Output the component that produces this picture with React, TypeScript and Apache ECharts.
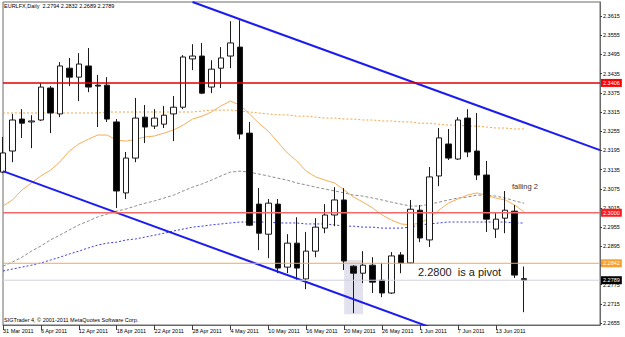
import React, { useEffect, useRef } from "react";
import * as echarts from "echarts";

const dates = ["31 Mar 2011","1 Apr 2011","4 Apr 2011","5 Apr 2011","6 Apr 2011","7 Apr 2011","8 Apr 2011","11 Apr 2011","12 Apr 2011","13 Apr 2011","14 Apr 2011","15 Apr 2011","18 Apr 2011","19 Apr 2011","20 Apr 2011","21 Apr 2011","22 Apr 2011","25 Apr 2011","26 Apr 2011","27 Apr 2011","28 Apr 2011","29 Apr 2011","2 May 2011","3 May 2011","4 May 2011","5 May 2011","6 May 2011","9 May 2011","10 May 2011","11 May 2011","12 May 2011","13 May 2011","16 May 2011","17 May 2011","18 May 2011","19 May 2011","20 May 2011","23 May 2011","24 May 2011","25 May 2011","26 May 2011","27 May 2011","30 May 2011","31 May 2011","1 Jun 2011","2 Jun 2011","3 Jun 2011","6 Jun 2011","7 Jun 2011","8 Jun 2011","9 Jun 2011","10 Jun 2011","13 Jun 2011","14 Jun 2011","15 Jun 2011","16 Jun 2011"];
const futureSlots = ["f1","f2","f3","f4","f5","f6","f7","f8"];

const opens = [2.3127,2.3193,2.3293,2.3284,2.3290,2.3390,2.3309,2.3452,2.3424,2.3459,2.3399,2.3399,2.3284,2.3062,2.3171,2.3299,2.3271,2.3277,2.3309,2.3330,2.3481,2.3490,2.3393,2.3452,2.3490,2.3518,2.3249,2.3027,2.2933,2.3027,2.2830,2.2905,2.2793,2.2880,2.2952,2.2993,2.3040,2.2833,2.2811,2.2836,2.2789,2.2749,2.2868,2.2843,2.3008,2.2915,2.3115,2.3215,2.3168,2.3296,2.3193,2.3118,2.2949,2.2983,2.3005,2.2794];
const closes = [2.3187,2.3290,2.3280,2.3287,2.3393,2.3312,2.3459,2.3424,2.3465,2.3393,2.3396,2.3293,2.3068,2.3171,2.3296,2.3268,2.3296,2.3305,2.3330,2.3487,2.3490,2.3374,2.3449,2.3484,2.3531,2.3246,2.2961,2.2936,2.3030,2.2827,2.2905,2.2827,2.2880,2.2955,2.2993,2.3040,2.2849,2.2811,2.2836,2.2783,2.2749,2.2865,2.2843,2.3011,2.2921,2.3112,2.3234,2.3171,2.3290,2.3190,2.3118,2.2980,2.2980,2.3008,2.2805,2.2789];
const lows = [2.3124,2.3158,2.3234,2.3202,2.3287,2.3249,2.3299,2.3396,2.3349,2.3377,2.3268,2.3284,2.3015,2.3043,2.3158,2.3218,2.3262,2.3265,2.3224,2.3324,2.3446,2.3371,2.3374,2.3390,2.3452,2.3230,2.2958,2.2883,2.2858,2.2811,2.2811,2.2789,2.2761,2.2861,2.2936,2.2958,2.2821,2.2686,2.2780,2.2749,2.2736,2.2746,2.2811,2.2840,2.2908,2.2893,2.3083,2.3165,2.3165,2.3174,2.3102,2.2940,2.2921,2.2936,2.2796,2.2689];
const highs = [2.3237,2.3309,2.3324,2.3305,2.3405,2.3396,2.3471,2.3484,2.3499,2.3515,2.3431,2.3424,2.3293,2.3190,2.3359,2.3337,2.3324,2.3334,2.3365,2.3493,2.3527,2.3531,2.3477,2.3518,2.3599,2.3602,2.3284,2.3077,2.3043,2.3043,2.2933,2.2986,2.2940,2.2983,2.3027,2.3080,2.3077,2.2836,2.2880,2.2861,2.2843,2.2877,2.2877,2.3040,2.3024,2.3143,2.3265,2.3262,2.3299,2.3324,2.3312,2.3162,2.3002,2.3068,2.3024,2.2832];

const maFast = [2.3021,2.3040,2.3071,2.3093,2.3115,2.3133,2.3159,2.3193,2.3215,2.3230,2.3243,2.3243,2.3227,2.3224,2.3230,2.3237,2.3240,2.3249,2.3259,2.3274,2.3293,2.3302,2.3315,2.3334,2.3349,2.3337,2.3309,2.3280,2.3255,2.3221,2.3187,2.3162,2.3130,2.3112,2.3102,2.3093,2.3071,2.3049,2.3033,2.3015,2.2993,2.2977,2.2965,2.2962,2.2968,2.2983,2.3008,2.3030,2.3043,2.3055,2.3062,2.3055,2.3046,2.3040,2.3024,2.3002];
const maSlow = [2.3312,2.3312,2.3312,2.3312,2.3312,2.3312,2.3312,2.3312,2.3312,2.3312,2.3312,2.3315,2.3315,2.3315,2.3315,2.3315,2.3315,2.3315,2.3315,2.3315,2.3315,2.3318,2.3321,2.3321,2.3321,2.3318,2.3315,2.3312,2.3309,2.3306,2.3306,2.3302,2.3302,2.3299,2.3296,2.3296,2.3293,2.3293,2.3290,2.3290,2.3287,2.3287,2.3284,2.3284,2.3280,2.3280,2.3277,2.3274,2.3274,2.3271,2.3271,2.3268,2.3265,2.3265,2.3262,2.3262];
const maMid = [2.2833,2.2846,2.2861,2.2880,2.2896,2.2915,2.2930,2.2946,2.2962,2.2974,2.2987,2.2996,2.3005,2.3012,2.3021,2.3030,2.3037,2.3046,2.3055,2.3068,2.3080,2.3090,2.3102,2.3115,2.3127,2.3130,2.3127,2.3121,2.3115,2.3108,2.3102,2.3093,2.3087,2.3080,2.3074,2.3068,2.3062,2.3055,2.3052,2.3046,2.3040,2.3033,2.3027,2.3021,2.3021,2.3027,2.3033,2.3040,2.3046,2.3049,2.3055,2.3055,2.3052,2.3046,2.3037,2.3030];
const maBlue = [2.2818,2.2824,2.2830,2.2836,2.2843,2.2852,2.2861,2.2871,2.2880,2.2890,2.2899,2.2905,2.2908,2.2915,2.2918,2.2924,2.2930,2.2936,2.2943,2.2949,2.2955,2.2958,2.2962,2.2965,2.2968,2.2971,2.2971,2.2971,2.2971,2.2968,2.2968,2.2968,2.2965,2.2965,2.2965,2.2962,2.2958,2.2958,2.2955,2.2955,2.2952,2.2952,2.2952,2.2955,2.2962,2.2965,2.2968,2.2971,2.2971,2.2971,2.2971,2.2971,2.2971,2.2971,2.2968,2.2968];

const upperTrend = [[20, 2.3659], [63, 2.3196]];
const lowerTrend = [[0, 2.3130], [46, 2.2632]];

const levelValues = [2.3406, 2.3000, 2.2842, 2.2789];
const levelLineColors = ["#e00000", "#f26a6a", "#f3a850", "#d2d2e0"];
const levelLineWidths = [1.5, 1.5, 1, 1];
const levelBoxColors = ["#ff0000", "#ff1a1a", "#f7a030", "#000000"];

const shadeBox = { fromIndex: 36, toIndex: 38, top: 2.2852, bottom: 2.2683 };

const yTicks = [2.2655,2.2715,2.2775,2.2835,2.2895,2.2955,2.3015,2.3075,2.3135,2.3195,2.3255,2.3315,2.3375,2.3435,2.3495,2.3555,2.3615];
const yLabels = [2.2655,2.2715,2.2775,2.2895,2.2955,2.3015,2.3075,2.3135,2.3195,2.3255,2.3315,2.3375,2.3435,2.3495,2.3555,2.3615];

const headerText = "EURLFX,Daily  2.2794 2.2832 2.2689 2.2789";
const footerText = "SIGTrader 4, \u00a9 2001-2011 MetaQuotes Software Corp.";
const pivotText = "2.2800  is a pivot";
const fallingText = "falling 2";

export default function App() {
  const ref = useRef<HTMLDivElement>(null);
  useEffect(() => {
    const chart = echarts.init(ref.current!, null, { renderer: "svg" });
    const font = "'Liberation Sans', Arial, sans-serif";
    const categories = [...dates, ...futureSlots];
    const lastIndex = categories.length - 1;
    const candleData = dates.map((_, i) => [opens[i], closes[i], lows[i], highs[i]]);
    const showLabel = (i: number) => i % 4 === 0 && i < dates.length - 2;

    const levelSeries = levelValues.map((v, k) => ({
      type: "line",
      data: [[0, v], [lastIndex, v]],
      showSymbol: false,
      silent: true,
      z: 5,
      lineStyle: { color: levelLineColors[k], width: levelLineWidths[k] },
      endLabel: {
        show: true,
        distance: 1,
        formatter: () => v.toFixed(4),
        backgroundColor: levelBoxColors[k],
        color: "#ffffff",
        fontSize: 5.5,
        fontFamily: font,
        padding: [1, 2, 1, 2],
      },
    }));

    const option: any = {
      animation: false,
      backgroundColor: "#ffffff",
      textStyle: { fontFamily: font },
      grid: {
        left: 2, top: 2, width: 598, height: 323,
        show: true, borderColor: "#6a6a6a", borderWidth: 1, backgroundColor: "transparent",
      },
      xAxis: {
        type: "category",
        data: categories,
        boundaryGap: false,
        axisLine: { show: true, lineStyle: { color: "#6a6a6a" } },
        axisTick: { show: true, interval: showLabel, length: 5, lineStyle: { color: "#404040" } },
        axisLabel: {
          interval: showLabel, align: "left", fontSize: 5.5, color: "#000", margin: 3, fontFamily: font,
        },
        splitLine: { show: false },
      },
      yAxis: {
        type: "value",
        position: "right",
        min: 2.2649,
        max: 2.3659,
        axisLine: { show: true, lineStyle: { color: "#6a6a6a" } },
        axisTick: { show: true, customValues: yTicks, length: 2, lineStyle: { color: "#404040" } },
        axisLabel: {
          customValues: yLabels,
          formatter: (v: number) => v.toFixed(4),
          fontSize: 5.5, color: "#000", margin: 3, fontFamily: font,
        },
        splitLine: { show: false },
      },
      series: [
        {
          type: "line", data: maBlue, showSymbol: false, silent: true, z: 1,
          lineStyle: { color: "#3a3af0", width: 1, type: [2, 2] },
          markArea: {
            silent: true,
            itemStyle: { color: "#e2e2ee" },
            data: [[
              { xAxis: shadeBox.fromIndex, yAxis: shadeBox.top },
              { xAxis: shadeBox.toIndex, yAxis: shadeBox.bottom },
            ]],
          },
        },
        {
          type: "line", data: maMid, showSymbol: false, silent: true, z: 2,
          lineStyle: { color: "#8c8c8c", width: 1, type: [3, 2] },
        },
        {
          type: "line", data: maSlow, showSymbol: false, silent: true, z: 2,
          lineStyle: { color: "#f2a448", width: 1, type: [2, 2] },
        },
        {
          type: "line", data: maFast, showSymbol: false, silent: true, z: 2,
          lineStyle: { color: "#f5ae5a", width: 1 },
        },
        {
          type: "candlestick",
          data: candleData,
          barWidth: 6,
          z: 3,
          silent: true,
          itemStyle: {
            color: "#ffffff", color0: "#000000",
            borderColor: "#1a1a1a", borderColor0: "#1a1a1a", borderWidth: 1,
          },
        },
        {
          type: "line", data: upperTrend, showSymbol: false, silent: true, z: 4,
          lineStyle: { color: "#1c1cf0", width: 2 },
        },
        {
          type: "line", data: lowerTrend, showSymbol: false, silent: true, z: 4,
          lineStyle: { color: "#1c1cf0", width: 2 },
        },
        ...levelSeries,
      ],
      graphic: [
        { type: "text", x: 4, y: 6, style: { text: headerText, fontSize: 5.5, fontFamily: font, fill: "#000", verticalAlign: "middle" } },
        { type: "text", x: 4, y: 320, style: { text: footerText, fontSize: 5.5, fontFamily: font, fill: "#000", verticalAlign: "middle" } },
        { type: "text", x: 418, y: 272, z: 10, style: { text: pivotText, fontSize: 11, fontFamily: font, fill: "#1a1a1a", verticalAlign: "middle" } },
        { type: "text", x: 512, y: 186, z: 10, style: { text: fallingText, fontSize: 7.5, fontFamily: font, fill: "#333", verticalAlign: "middle" } },
      ],
    };
    chart.setOption(option);
    return () => chart.dispose();
  }, []);
  return (
    <div
      ref={ref}
      style={{ position: "fixed", left: 0, top: 0, width: 625, height: 337, background: "#fff" }}
    />
  );
}
